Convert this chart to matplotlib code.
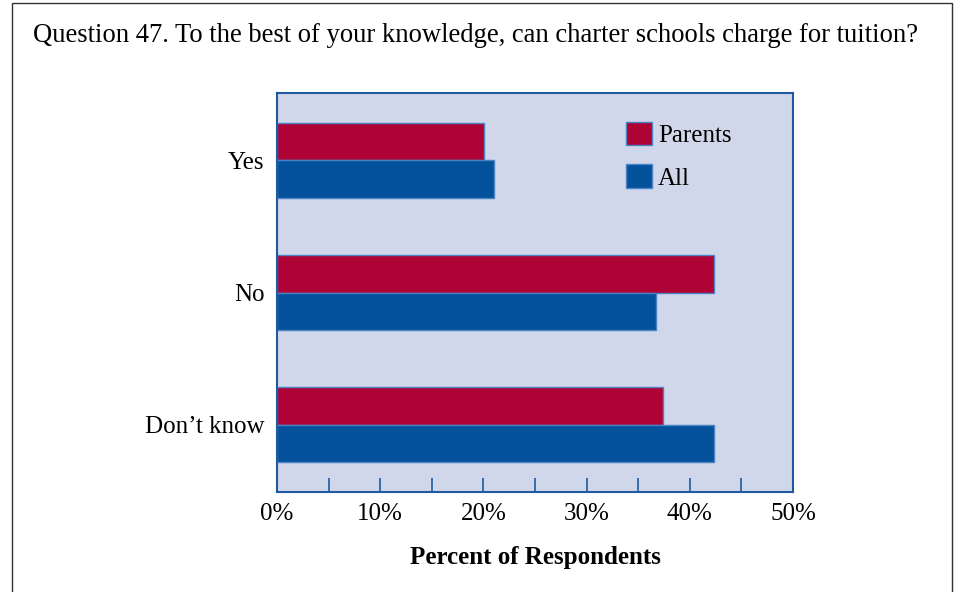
import matplotlib
matplotlib.use("Agg")
import matplotlib.pyplot as plt
from matplotlib.patches import Rectangle
import numpy as np

categories = ["Yes", "No", "Don\u2019t know"]
parents = [20.1, 42.3, 37.4]
all_resp = [21.0, 36.7, 42.3]
xticks = [0, 10, 20, 30, 40, 50]
xticklabels = ["0%", "10%", "20%", "30%", "40%", "50%"]

red = "#b00335"
blue = "#03529b"
edge = "#4a82c4"
spine = "#1f5a9e"
bg = "#d0d7ea"

plt.rcParams["font.family"] = ["Liberation Serif", "DejaVu Serif"]

fig = plt.figure(figsize=(9.56, 5.92), dpi=100)
ax = fig.add_axes([277 / 956, 100 / 592, 516 / 956, 399 / 592])
ax.set_facecolor(bg)

y = np.arange(len(categories))
h = 0.285
ax.barh(y - h / 2, parents, height=h, color=red, edgecolor=edge, linewidth=1, label="Parents")
ax.barh(y + h / 2, all_resp, height=h, color=blue, edgecolor=edge, linewidth=1, label="All")

ax.set_xlim(0, 50)
ax.set_ylim(2.51, -0.51)
ax.set_yticks(y)
ax.set_yticklabels(categories, fontsize=18)
ax.tick_params(axis="y", length=0, pad=9)
ax.set_xticks(xticks)
ax.set_xticklabels(xticklabels, fontsize=18)
ax.set_xticks([5, 15, 25, 35, 45], minor=True)
ax.tick_params(axis="x", which="both", direction="in", length=10, width=1.2, color=spine, pad=8)
for s in ax.spines.values():
    s.set_color(spine)
    s.set_linewidth(1.5)

ax.set_xlabel("Percent of Respondents", fontsize=18, fontweight="bold", labelpad=15)

ax.legend(loc="upper left", bbox_to_anchor=(0.676, 0.928), frameon=False, fontsize=18,
          handlelength=1.04, handleheight=1.06, handletextpad=0.25, labelspacing=0.7,
          borderpad=0, borderaxespad=0)

fig.text(33 / 956, 1 - 36 / 592, "Question 47. To the best of your knowledge, can charter schools charge for tuition?",
         fontsize=19.2, va="center", ha="left")

fig.patches.append(Rectangle((12 / 956, -0.02), 940 / 956, 1.02 - 3 / 592, transform=fig.transFigure,
                             fill=False, edgecolor="#333333", linewidth=1))

fig.savefig("out.png", dpi=100)
